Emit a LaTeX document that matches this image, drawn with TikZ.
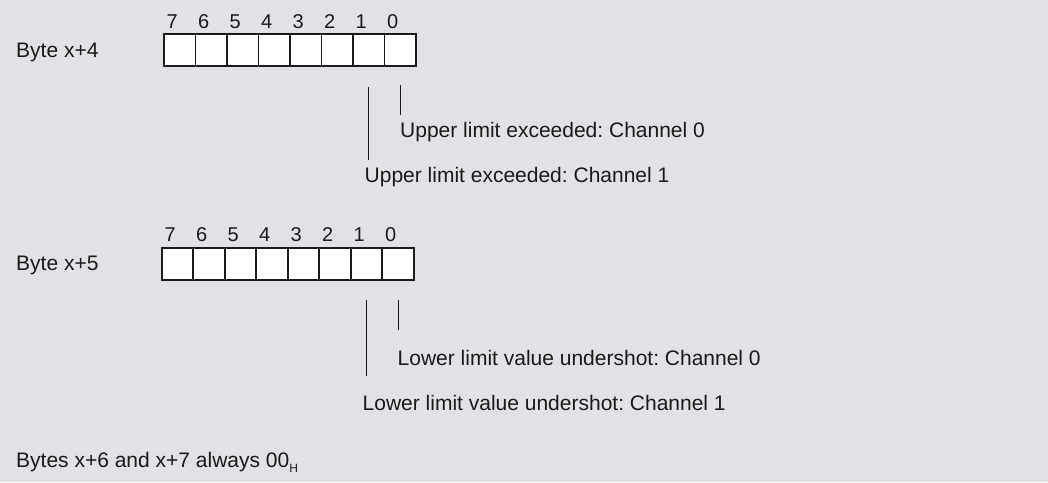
\documentclass[tikz,border=0pt]{standalone}
\usepackage{fontspec}
\setmainfont{Liberation Sans}
\usetikzlibrary{calc}
\definecolor{bg}{HTML}{E2E2E6}
\definecolor{ink}{HTML}{1A1A1A}
\tikzset{
  cell/.style={draw=ink, fill=white, line width=1.8pt, minimum width=31.5pt, minimum height=32pt, inner sep=0pt, outer sep=0pt},
  digit/.style={text=ink, inner sep=0pt, font=\fontsize{20}{24}\selectfont},
  lbl/.style={text=ink, inner sep=0pt, anchor=west, font=\fontsize{21}{25}\selectfont\frenchspacing},
  tick/.style={draw=ink, line width=1.8pt}
}
\begin{document}
\begin{tikzpicture}[x=1pt,y=-1pt]
\fill[bg] (0,0) rectangle (1048,482);
\useasboundingbox (0,0) rectangle (1048,482);
% Byte x+4
\node[lbl] (b4) at (16,52) {Byte x+4};
\foreach \i in {0,...,7} {
  \node[cell] (a\i) at ({164+31.5*(7-\i)+15.75},50) {};
  \node[digit] (da\i) at ({164+31.5*(7-\i)+8.25},22) {\i};
}
\coordinate (a1t) at (368.5,87);
\coordinate (a1b) at (368.5,160);
\coordinate (a0t) at (400.5,85);
\coordinate (a0b) at (400.5,115);
\draw[tick] (a1t) -- (a1b);
\draw[tick] (a0t) -- (a0b);
\node[lbl] (u0) at (400,132) {Upper limit exceeded: Channel 0};
\node[lbl] (u1) at (364.5,177) {Upper limit exceeded: Channel 1};
% Byte x+5
\node[lbl] (b5) at (16,265) {Byte x+5};
\foreach \i in {0,...,7} {
  \node[cell] (c\i) at ({161.7+31.5*(7-\i)+15.75},264) {};
  \node[digit] (dc\i) at ({161.7+31.5*(7-\i)+8.5},235) {\i};
}
\coordinate (c1t) at (366.5,300);
\coordinate (c1b) at (366.5,376);
\coordinate (c0t) at (398.5,300);
\coordinate (c0b) at (398.5,330);
\draw[tick] (c1t) -- (c1b);
\draw[tick] (c0t) -- (c0b);
\node[lbl] (l0) at (397.5,358) {Lower limit value undershot: Channel 0};
\node[lbl] (l1) at (362.5,403) {Lower limit value undershot: Channel 1};
% footer
\node[lbl] (ft) at (16,462) {Bytes x+6 and x+7 always 00\raisebox{-0.45ex}{\fontsize{12}{12}\selectfont H}};
\end{tikzpicture}
\end{document}
